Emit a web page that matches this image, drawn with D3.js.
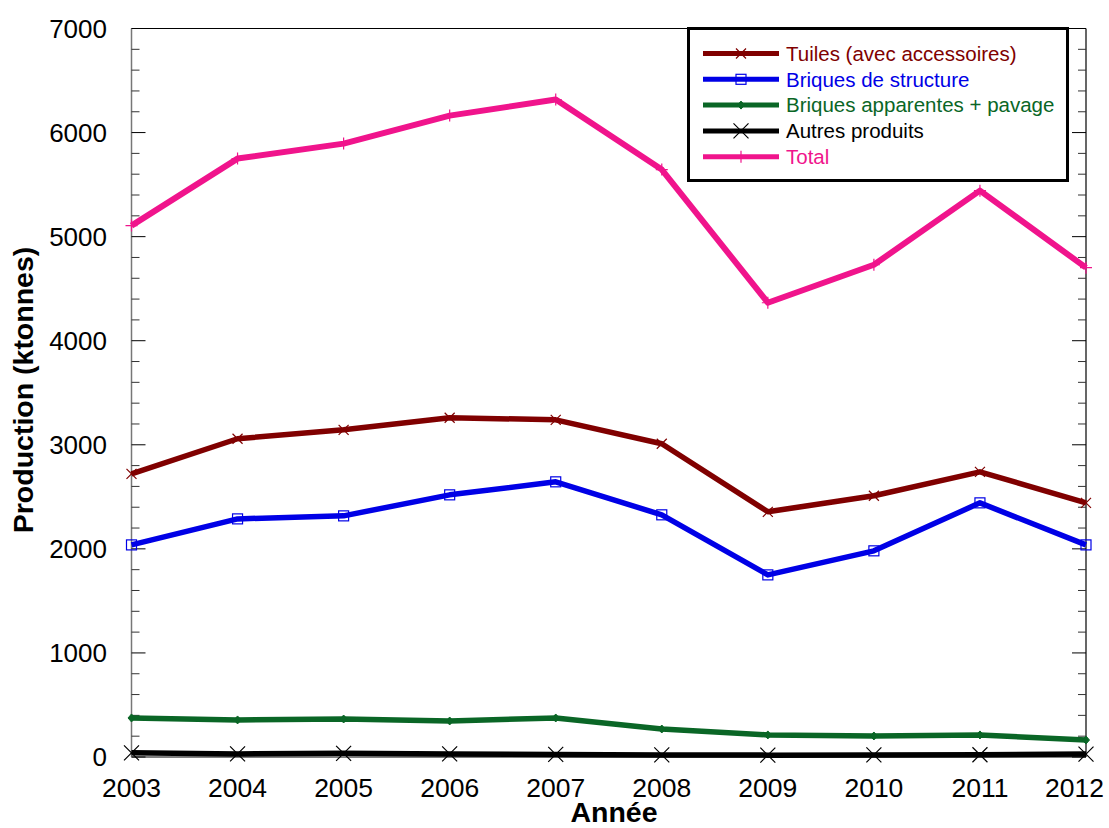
<!DOCTYPE html>
<html><head><meta charset="utf-8">
<script src="https://cdn.jsdelivr.net/npm/d3@7"></script>
<style>body{margin:0;background:#fff}svg{display:block}text{font-family:"Liberation Sans",Arial,sans-serif}</style>
</head><body><svg id="c" width="1109" height="828"></svg>
<script>
const years = [2003,2004,2005,2006,2007,2008,2009,2010,2011,2012];
const tuiles = [2721,3058,3144,3260,3240,3010,2356,2510,2740,2442];
const briquesStructure = [2038,2288,2317,2519,2644,2327,1750,1981,2442,2038];
const briquesApparentes = [375,356,365,346,375,269,212,202,212,163];
const autres = [40,30,35,30,25,20,18,20,22,28];
const total = [5106,5750,5894,6163,6317,5644,4365,4730,5442,4702];
const yTicks = [0,1000,2000,3000,4000,5000,6000,7000];
const seriesNames = ["Tuiles (avec accessoires)","Briques de structure","Briques apparentes + pavage","Autres produits","Total"];

const series = [
  {name:seriesNames[0], values:tuiles, color:"#800000", marker:"x", w:5.5},
  {name:seriesNames[1], values:briquesStructure, color:"#0000e6", marker:"square", w:5.5},
  {name:seriesNames[2], values:briquesApparentes, color:"#0a6626", marker:"diamond", w:5.5},
  {name:seriesNames[3], values:autres, color:"#000000", marker:"bigx", w:5.5},
  {name:seriesNames[4], values:total, color:"#f0148c", marker:"plus", w:6}
];

const svg = d3.select("#c");
const L=131.5, R=1086, T=28.5, B=757;
const x = d3.scaleLinear().domain([2003,2012]).range([L,R]);
const y = d3.scaleLinear().domain([0,7000]).range([B,T]);

// frame
svg.append("line").attr("x1",L).attr("x2",R).attr("y1",T).attr("y2",T).attr("stroke","#000").attr("stroke-width",1.2);
svg.append("line").attr("x1",L).attr("x2",R).attr("y1",B).attr("y2",B).attr("stroke","#000").attr("stroke-width",1.2);
svg.append("line").attr("x1",L).attr("x2",L).attr("y1",T).attr("y2",B).attr("stroke","#777").attr("stroke-width",1.5);
svg.append("line").attr("x1",R).attr("x2",R).attr("y1",T).attr("y2",B).attr("stroke","#000").attr("stroke-width",1.2);

// ticks
const minor = d3.range(0,7001,200).filter(v=>v%1000!==0);
svg.append("g").selectAll("line").data(minor).join("line")
  .attr("x1",L).attr("x2",L+8).attr("y1",d=>y(d)).attr("y2",d=>y(d)).attr("stroke","#333");
svg.append("g").selectAll("line").data(minor).join("line")
  .attr("x1",R).attr("x2",R-8).attr("y1",d=>y(d)).attr("y2",d=>y(d)).attr("stroke","#333");
svg.append("g").selectAll("line").data(yTicks).join("line")
  .attr("x1",L).attr("x2",L+14).attr("y1",d=>y(d)).attr("y2",d=>y(d)).attr("stroke","#000");
svg.append("g").selectAll("line").data(yTicks).join("line")
  .attr("x1",R).attr("x2",R-14).attr("y1",d=>y(d)).attr("y2",d=>y(d)).attr("stroke","#000");

// tick labels
svg.append("g").selectAll("text").data(yTicks).join("text")
  .attr("x",107).attr("y",d=>y(d)).attr("dy","0.36em").attr("text-anchor","end")
  .attr("font-size",26).text(d=>d);
svg.append("g").selectAll("text").data(years).join("text")
  .attr("x",d=>x(d)).attr("y",797).attr("text-anchor","middle")
  .attr("font-size",26.5).text(d=>d)
  .each(function(d){
    const w = this.getComputedTextLength();
    const cx = Math.min(x(d), 1104 - w/2);
    d3.select(this).attr("x", cx);
  });

// titles
svg.append("text").attr("transform","translate(33,390) rotate(-90)")
  .attr("text-anchor","middle").attr("font-size",28.5).attr("font-weight","bold").text("Production (ktonnes)");
svg.append("text").attr("x",614).attr("y",822).attr("text-anchor","middle")
  .attr("font-size",28.5).attr("font-weight","bold").text("Année");

function drawMarker(g, type, cx, cy, color){
  if(type==="x"){
    const s=5;
    g.append("path").attr("d",`M${cx-s},${cy-s}L${cx+s},${cy+s}M${cx-s},${cy+s}L${cx+s},${cy-s}`).attr("stroke",color).attr("stroke-width",1.2).attr("fill","none");
  } else if(type==="bigx"){
    const s=7.5;
    g.append("path").attr("d",`M${cx-s},${cy-s}L${cx+s},${cy+s}M${cx-s},${cy+s}L${cx+s},${cy-s}`).attr("stroke",color).attr("stroke-width",1.2).attr("fill","none");
  } else if(type==="square"){
    g.append("rect").attr("x",cx-5).attr("y",cy-5).attr("width",10).attr("height",10).attr("stroke",color).attr("stroke-width",1.2).attr("fill","none");
  } else if(type==="diamond"){
    g.append("path").attr("d",`M${cx},${cy-4}L${cx+3.5},${cy}L${cx},${cy+4}L${cx-3.5},${cy}Z`).attr("stroke",color).attr("fill",color);
  } else if(type==="plus"){
    const s=6;
    g.append("path").attr("d",`M${cx-s},${cy}L${cx+s},${cy}M${cx},${cy-s}L${cx},${cy+s}`).attr("stroke",color).attr("stroke-width",1.2).attr("fill","none");
  }
}

const line = d3.line().x((d,i)=>x(years[i])).y(d=>y(d));
const order = [2,3,1,0,4];
order.forEach(k=>{
  const s = series[k];
  const g = svg.append("g");
  g.append("path").attr("d",line(s.values)).attr("fill","none").attr("stroke",s.color)
    .attr("stroke-width",s.w).attr("stroke-linejoin","round");
  s.values.forEach((v,i)=>drawMarker(g,s.marker,x(years[i]),y(v),s.color));
});

// legend
const lg = svg.append("g");
lg.append("rect").attr("x",688.5).attr("y",28.5).attr("width",379).attr("height",152)
  .attr("fill","#fff").attr("stroke","#000").attr("stroke-width",3);
series.forEach((s,i)=>{
  const yy = 53.5 + i*25.8;
  lg.append("line").attr("x1",703).attr("x2",779).attr("y1",yy).attr("y2",yy).attr("stroke",s.color).attr("stroke-width",5);
  drawMarker(lg,s.marker,741,yy,s.color);
  lg.append("text").attr("x",786).attr("y",yy).attr("dy","0.36em").attr("font-size",20.5).attr("fill",s.color).text(s.name);
});
</script></body></html>
